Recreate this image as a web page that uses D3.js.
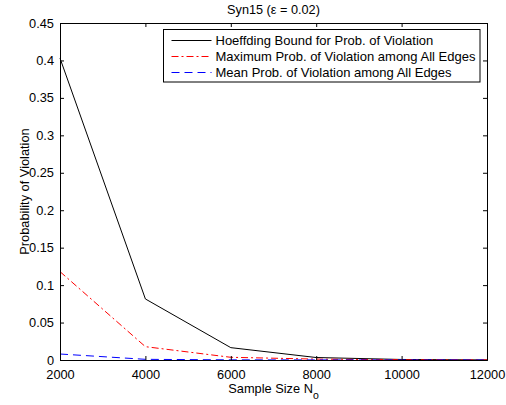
<!DOCTYPE html>
<html>
<head>
<meta charset="utf-8">
<script src="https://cdn.jsdelivr.net/npm/d3@7"></script>
<style>
  body { margin: 0; background: #fff; }
  svg { display: block; font-family: "Liberation Sans", Arial, sans-serif; }
</style>
</head>
<body>
<div id="chart"></div>
<script>
// sample sizes and the three series
var sampleSizes = [2000, 4000, 6000, 8000, 10000, 12000];
var hoeffding = [0.403, 0.0815, 0.0165, 0.0033, 0.0007, 0.0001];
var maxProb = [0.118, 0.0178, 0.0036, 0.0012, 0.0003, 0.0001];
var meanProb = [0.0080, 0.0009, 0.0002, 0.0001, 0.0000, 0.0000];
var xTicks = [2000, 4000, 6000, 8000, 10000, 12000];
var yTicks = [0, 0.05, 0.1, 0.15, 0.2, 0.25, 0.3, 0.35, 0.4, 0.45];

var series = [
  {name: "Hoeffding Bound for Prob. of Violation", values: hoeffding, color: "#000", dash: null},
  {name: "Maximum Prob. of Violation among All Edges", values: maxProb, color: "#ff0000", dash: "7,3,2,3"},
  {name: "Mean Prob. of Violation among All Edges", values: meanProb, color: "#0000ff", dash: "8,5"}
];

var W = 506, H = 405;
var margin = {top: 23, right: 19, bottom: 45, left: 60};
var width = W - margin.left - margin.right,
    height = H - margin.top - margin.bottom;

var svg = d3.select("#chart").append("svg").attr("width", W).attr("height", H);
var g = svg.append("g").attr("transform", "translate(" + margin.left + "," + margin.top + ")");

var x = d3.scaleLinear().domain([2000, 12000]).range([0, width]);
var y = d3.scaleLinear().domain([0, 0.45]).range([height, 0]);

// lines
var line = d3.line()
  .x(function (d, i) { return x(sampleSizes[i]); })
  .y(function (d) { return y(d); });

series.forEach(function (s) {
  g.append("path")
    .attr("d", line(s.values))
    .attr("fill", "none")
    .attr("stroke", s.color)
    .attr("stroke-width", 1)
    .attr("stroke-dasharray", s.dash);
});

// axes, ticks point inward like matlab
var tickFont = 12.8;
var xAxis = g.append("g").attr("transform", "translate(0," + height + ")")
  .call(d3.axisBottom(x).tickValues(xTicks).tickSize(-4).tickPadding(9.5).tickFormat(d3.format("d")));
var xTop = g.append("g")
  .call(d3.axisTop(x).tickValues(xTicks).tickSize(-4).tickFormat(""));
var yAxis = g.append("g")
  .call(d3.axisLeft(y).tickValues(yTicks).tickSize(-4).tickPadding(6).tickFormat(function (d) { return d3.format("")(+d.toFixed(2)); }));
var yRight = g.append("g").attr("transform", "translate(" + width + ",0)")
  .call(d3.axisRight(y).tickValues(yTicks).tickSize(-4).tickFormat(""));

[xAxis, xTop, yAxis, yRight].forEach(function (a) {
  a.select(".domain").attr("stroke", "#000").attr("stroke-width", 1);
  a.selectAll(".tick line").attr("stroke", "#000");
  a.selectAll("text").attr("font-size", tickFont).attr("font-family", "Liberation Sans, Arial, sans-serif").attr("fill", "#000");
});

// title
svg.append("text")
  .attr("x", margin.left + width / 2).attr("y", 14)
  .attr("text-anchor", "middle").attr("font-size", 12.7)
  .text("Syn15 (\u03b5 = 0.02)");

// x label with subscript
var xl = svg.append("text")
  .attr("x", margin.left + width / 2).attr("y", 393)
  .attr("text-anchor", "middle").attr("font-size", 12.8);
xl.append("tspan").text("Sample Size N");
xl.append("tspan").attr("dy", 6).attr("font-size", 10.5).text("o");

// y label
svg.append("text")
  .attr("transform", "translate(29," + (margin.top + height / 2) + ") rotate(-90)")
  .attr("text-anchor", "middle").attr("font-size", 12.8)
  .text("Probability of Violation");

// legend
var lg = svg.append("g").attr("transform", "translate(163.5,29.5)");
lg.append("rect").attr("width", 316.5).attr("height", 52.5)
  .attr("fill", "#fff").attr("stroke", "#000").attr("stroke-width", 1);
var rows = lg.selectAll("g.row").data(series).enter().append("g")
  .attr("class", "row")
  .attr("transform", function (d, i) { return "translate(0," + (11 + i * 16) + ")"; });
rows.append("line").attr("x1", 8).attr("x2", 48)
  .attr("stroke", function (d) { return d.color; })
  .attr("stroke-dasharray", function (d) { return d.dash; });
rows.append("text").attr("x", 52).attr("y", 4.7).attr("font-size", 13)
  .text(function (d) { return d.name; });
</script>
</body>
</html>
